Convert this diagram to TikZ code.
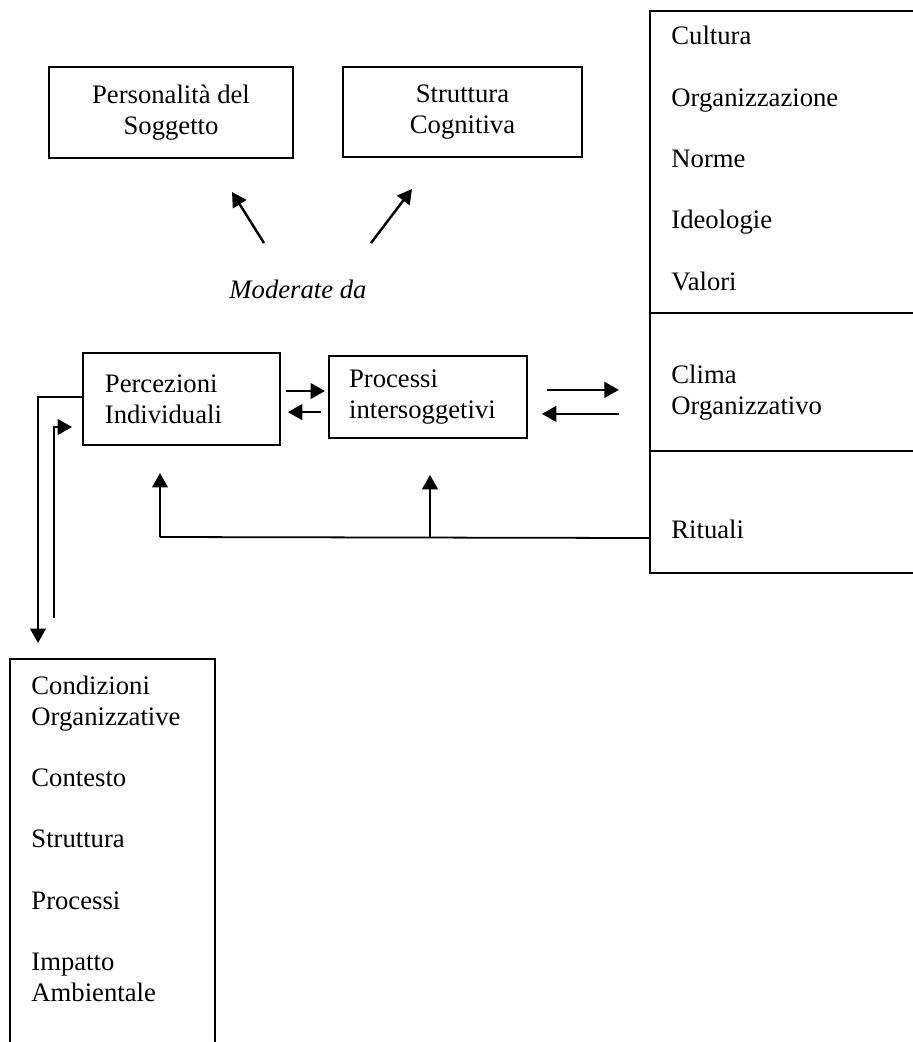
\documentclass[tikz,border=0pt]{standalone}
\usepackage{fontspec}
\setmainfont{Liberation Serif}
\usetikzlibrary{arrows.meta,calc}
\begin{document}
\begin{tikzpicture}[x=0.45pt,y=-0.45pt,>={Triangle[length=6.5pt,width=7pt]},
	blk/.style={draw,line width=0.8pt,inner xsep=2pt,inner ysep=0pt,font=\fontsize{12}{13.8}\selectfont},
	txt/.style={inner sep=0pt,anchor=base west,align=left,font=\fontsize{12}{13.8}\selectfont},
	arr/.style={->,line width=1.1pt},
	frame/.style={line width=0.8pt}]
		\useasboundingbox (0,0) rectangle (913,1042);
		\node[blk,align=center,minimum width=109.8pt,minimum height=41pt] (pers) at (171,112.5) {Personalità del\\Soggetto};
		\node[blk,align=center,minimum width=107.6pt,minimum height=40.5pt] (strut) at (462.5,112) {Struttura\\Cognitiva};
		\node[blk,align=left,minimum width=88.7pt,minimum height=41.4pt,text width=68.9pt] (perc) at (181.5,399) {Percezioni\\Individuali};
		\node[blk,align=left,minimum width=89.1pt,minimum height=36.9pt,text width=71pt] (proc) at (428,397) {Processi\\intersoggetivi};
		\node[txt,anchor=base,font=\fontsize{12}{13.8}\selectfont\itshape] (mod) at (298,298) {Moderate da};
		\node[txt] (cult) at (671,290) {Cultura\\[13.8pt]Organizzazione\\[13.8pt]Norme\\[13.8pt]Ideologie\\[13.8pt]Valori};
		\node[txt] (clima) at (671,414) {Clima\\Organizzativo};
		\node[txt] (rit) at (671,538) {Rituali};
		\node[txt] (cond) at (31,1001) {Condizioni\\Organizzative\\[13.8pt]Contesto\\[13.8pt]Struttura\\[13.8pt]Processi\\[13.8pt]Impatto\\Ambientale};
		\draw[frame] (913,11)-|(650,573)--(913,573);
		\draw[frame] (650,313)--(913,313) (650,451)--(913,451);
		\draw[frame] (10,1042)|-(215,659)--(215,1042);
		\coordinate (rbw) at (650,0);
		\coordinate (m1) at (264,243);
		\coordinate (m1t) at (232,192);
		\coordinate (m2) at (371,243);
		\coordinate (m2t) at (412,189);
		\draw[arr] (m1)--(m1t);
		\draw[arr] (m2)--(m2t);
		\draw[arr,shorten <=2.2pt,shorten >=1.4pt] ([yshift=3.6pt]perc.east)--([yshift=3.6pt]perc.east-|proc.west);
		\draw[arr,shorten <=3.1pt,shorten >=3.1pt] ([yshift=-5.9pt]perc.east-|proc.west)--([yshift=-5.9pt]perc.east);
		\draw[arr,shorten <=8.5pt,shorten >=14pt] ([yshift=3.2pt]proc.east)--([yshift=3.2pt]proc.east-|rbw);
		\draw[arr,shorten <=14pt,shorten >=6.3pt] ([yshift=-7.6pt]proc.east-|rbw)--([yshift=-7.6pt]proc.east);
		\coordinate (fp) at (160,537);
		\coordinate (fq) at (430,537);
		\draw[frame] (rit.base-|rbw)--(fp);
		\draw[arr] (fp)--([yshift=-12.2pt]perc.south-|fp);
		\draw[arr] (fq)--([yshift=-16.2pt]proc.south-|fq);
		\coordinate (dn) at (38,643);
		\coordinate (up) at (54,618);
		\draw[arr] ([yshift=0.9pt]perc.west)-|(dn);
		\draw[arr] (up)|-([xshift=-4.5pt,yshift=-12.6pt]perc.west);
	\end{tikzpicture}
\end{document}
